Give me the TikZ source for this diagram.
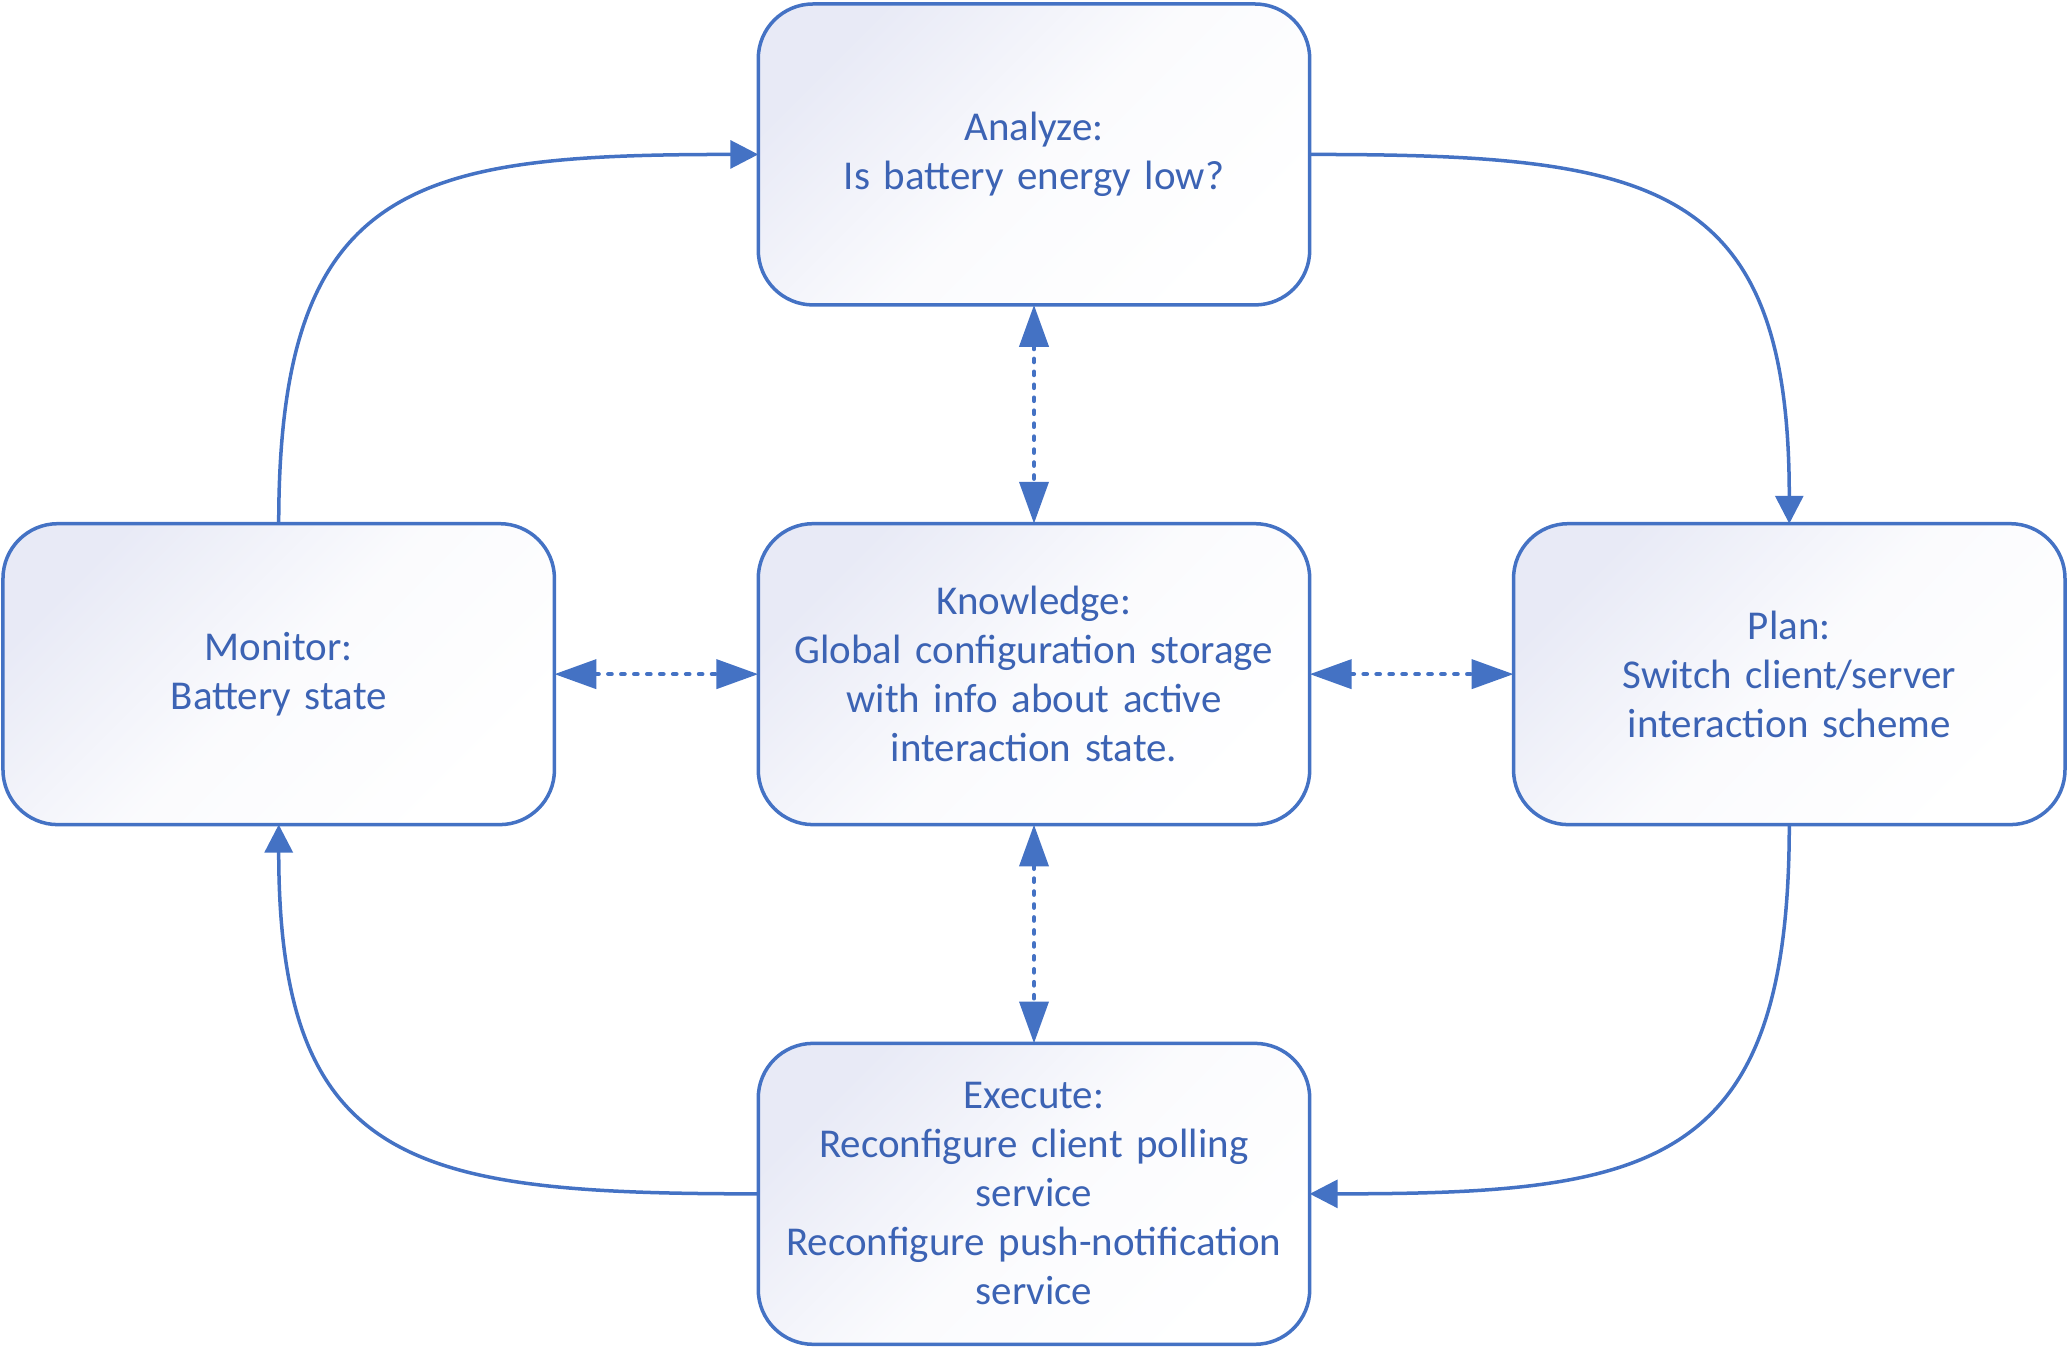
\documentclass[tikz,border=0pt]{standalone}
\usepackage{fontspec}
\setmainfont{Carlito}
\usepackage{tikz}
\usetikzlibrary{matrix,arrows.meta,calc}
\definecolor{mapeline}{HTML}{4472C4}
\definecolor{mapetext}{HTML}{3C63B4}
\definecolor{mapefill}{HTML}{E8EAF6}
\tikzset{
  phase/.style={draw=mapeline, line width=1pt, rounded corners=0.55cm,
    top color=mapefill, bottom color=white, middle color=white!80!mapefill,
    shading angle=45, inner sep=0.333em,
    minimum width=5.53cm, minimum height=3.02cm, text width=5.3cm,
    align=center, text=mapetext, font=\fontsize{11.7}{14}\selectfont},
  flow/.style={draw=mapeline, line width=1pt,
    -{Triangle[length=0.28cm,width=0.28cm]}},
  share/.style={draw=mapeline, line width=1.2pt,
    dash pattern=on 0.035cm off 0.095cm, line cap=round,
    {Triangle[length=0.42cm,width=0.29cm]}-{Triangle[length=0.42cm,width=0.29cm]}}
}
\begin{document}
\begin{tikzpicture}

     \matrix (mape) [%
       matrix of nodes, inner sep=0pt, outer sep=0pt,
       nodes={phase, anchor=center},
       column sep=2.01cm, row sep=2.16cm
     ]
      {%
        & |(ana)| {Analyze:\\Is battery energy low?} & \\
        |(mon)| {Monitor:\\Battery state}
          & |(kno)| {Knowledge:\\Global configuration storage\\with info about active\\interaction state.}
          & |(pln)| {Plan:\\Switch client/server\\interaction scheme} \\
        & |(exe)| {Execute:\\Reconfigure client polling\\service\\Reconfigure push-notification\\service} & \\
      };
    % keep the margins of the original
      \path[use as bounding box] ($(mon.west |- ana.north)+(-0.03,0.04)$)
        rectangle ($(pln.east |- exe.south)+(0.04,-0.03)$);
    % the loop
      \draw[flow] (mon.north) to[out=90,in=180,looseness=1.45] (ana.west);
      \draw[flow] (ana.east) to[out=0,in=90,looseness=1.45] (pln.north);
      \draw[flow] (pln.south) to[out=-90,in=0,looseness=1.45] (exe.east);
      \draw[flow] (exe.west) to[out=180,in=-90,looseness=1.45] (mon.south);
    % shared knowledge
      \draw[share] (ana.south) -- (kno.north);
      \draw[share] (mon.east) -- (kno.west);
      \draw[share] (kno.east) -- (pln.west);
      \draw[share] (kno.south) -- (exe.north);
  \end{tikzpicture}
\end{document}
